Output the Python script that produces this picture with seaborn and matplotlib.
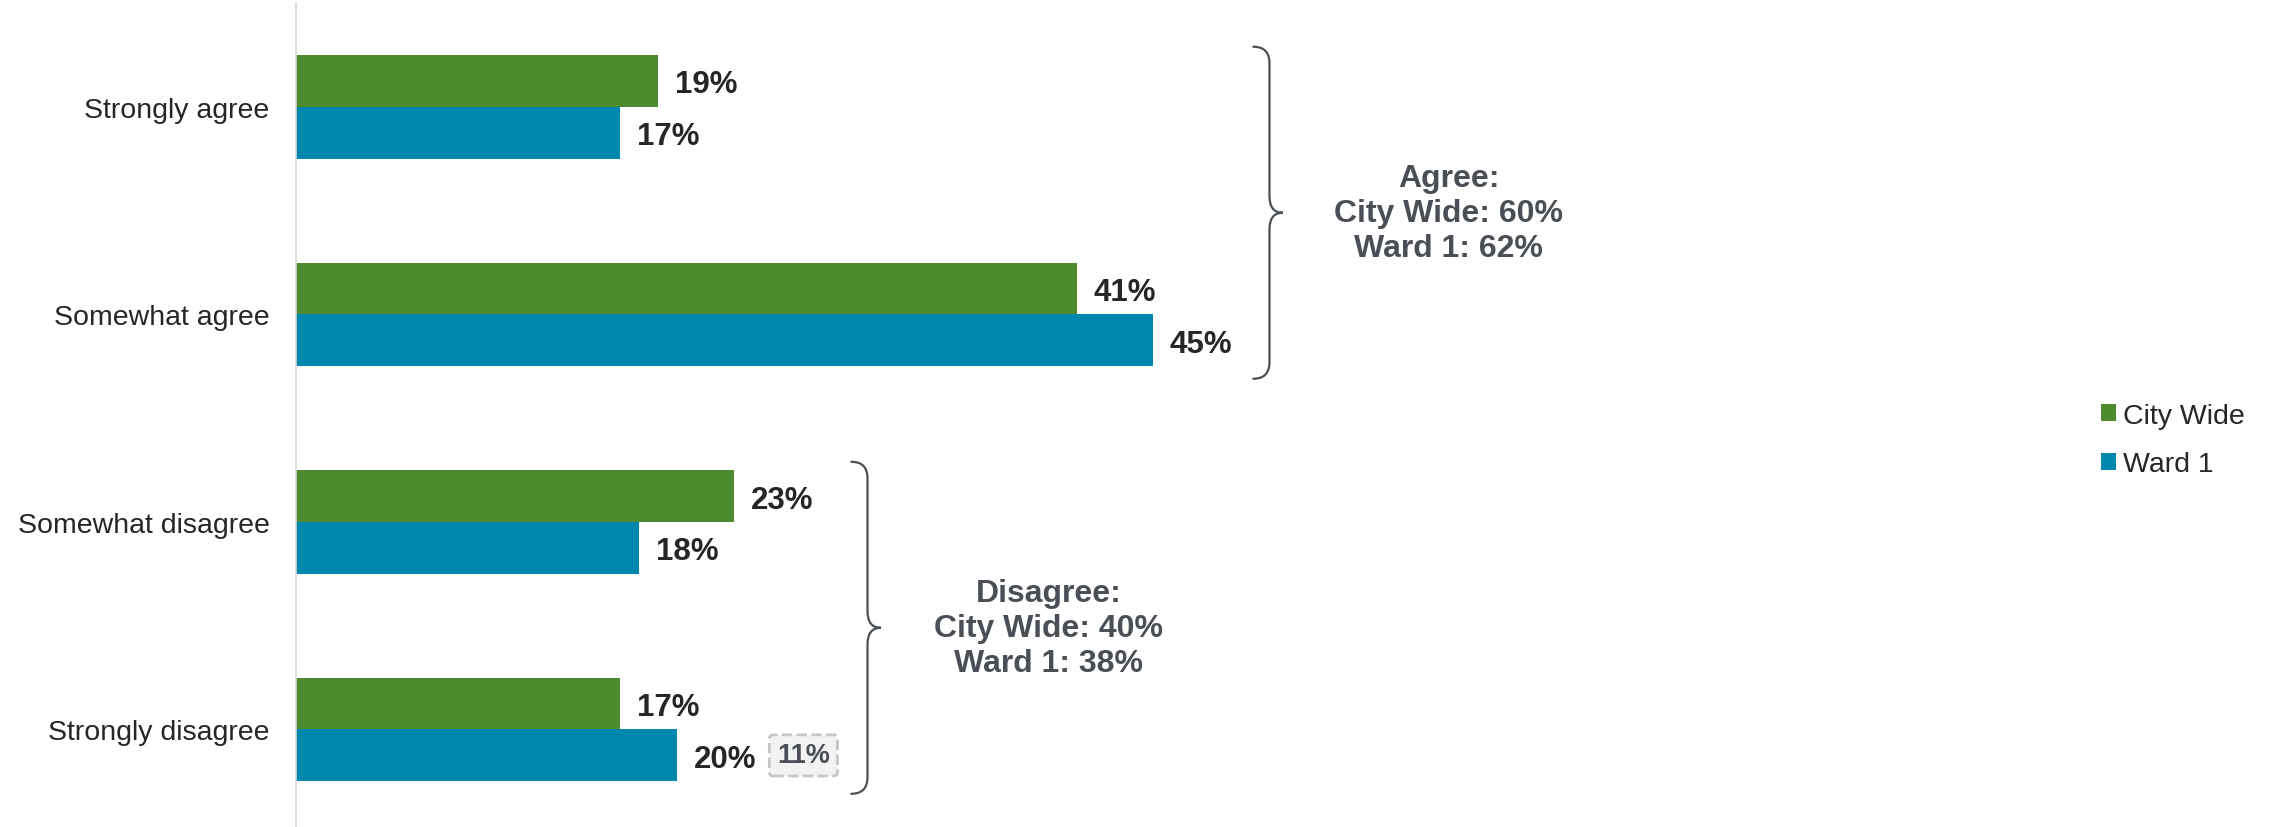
import matplotlib
matplotlib.use("Agg")
import matplotlib.pyplot as plt
from matplotlib.path import Path
from matplotlib.patches import PathPatch, Patch
import seaborn as sns
import pandas as pd

# data
categories = ["Strongly agree", "Somewhat agree", "Somewhat disagree", "Strongly disagree"]
groups = ["City Wide", "Ward 1"]
city_wide = [19, 41, 23, 17]
ward_1 = [17, 45, 18, 20]
net_names = ["Agree", "Disagree"]
net_city = [60, 40]
net_ward = [62, 38]
note_text = "11%"  # boxed note next to Ward 1 / Strongly disagree

GREEN = "#4E8B2E"
BLUE = "#0087AE"
DARK = "#262626"
GREY = "#4A4F55"


def draw_brace(ax, x, y_top, y_bot, width=0.85, tip=0.7, r=0.08):
    # curly brace opening to the left, tip pointing right
    y_mid = (y_top + y_bot) / 2
    x0 = x - width
    verts = [
        (x0, y_top), (x, y_top), (x, y_top + r),
        (x, y_mid - r),
        (x, y_mid), (x + tip, y_mid),
        (x, y_mid), (x, y_mid + r),
        (x, y_bot - r),
        (x, y_bot), (x0, y_bot),
    ]
    codes = [
        Path.MOVETO, Path.CURVE3, Path.CURVE3,
        Path.LINETO,
        Path.CURVE3, Path.CURVE3,
        Path.CURVE3, Path.CURVE3,
        Path.LINETO,
        Path.CURVE3, Path.CURVE3,
    ]
    ax.add_patch(PathPatch(Path(verts, codes), fc="none", ec=GREY, lw=1.6,
                           clip_on=False, capstyle="round"))


sns.set_theme(style="white")
plt.rcParams["font.family"] = ["Liberation Sans", "DejaVu Sans"]

df = pd.DataFrame({
    "category": categories * 2,
    "group": [groups[0]] * len(categories) + [groups[1]] * len(categories),
    "value": city_wide + ward_1,
})

fig = plt.figure(figsize=(22.75, 8.28), dpi=100)
ax = fig.add_axes([0.1301, 0.0, 0.8374, 1.0])
sns.barplot(data=df, y="category", x="value", hue="group", orient="h",
            palette=[GREEN, BLUE], saturation=1, width=0.5, linewidth=0,
            ax=ax, legend=False)

ax.set_xlim(0, 100)
ax.set_ylim(3.47, -0.52)
ax.set(xlabel="", ylabel="")
ax.set_xticks([])
ax.tick_params(axis="y", length=0, pad=19, labelsize=20.5, labelcolor=DARK)
for side in ["top", "right", "bottom"]:
    ax.spines[side].set_visible(False)
ax.spines["left"].set_color("#D9D9D9")
ax.spines["left"].set_linewidth(1.2)
ax.spines["left"].set_bounds(-0.5, 3.47)

for cont in ax.containers:
    texts = ax.bar_label(cont, labels=[f"{int(b.get_width())}%" for b in cont],
                         padding=12, fontsize=22.5, fontweight="bold", color=DARK)
    for t in texts:
        t.set_va("center_baseline")

# boxed note beside the last Ward 1 bar
bar = ax.containers[1][3]
ax.annotate(note_text, xy=(bar.get_width(), bar.get_y() + bar.get_height() / 2),
            xytext=(91, 0), textcoords="offset points", ha="center", va="center",
            fontsize=19.5, fontweight="bold", color=GREY,
            bbox=dict(boxstyle="round,pad=0.28,rounding_size=0.15", fc="#F2F2F2",
                      ec="#C3C7CB", ls="--", lw=2))

# net brackets
brace_x = [51.1, 30.0]
text_x = [60.5, 39.5]
spans = [(0, 1), (2, 3)]
for i, (a, b) in enumerate(spans):
    y_top, y_bot = a - 0.29, b + 0.31
    draw_brace(ax, brace_x[i], y_top, y_bot)
    ax.text(text_x[i], (y_top + y_bot) / 2,
            f"{net_names[i]}:\nCity Wide: {net_city[i]}%\nWard 1: {net_ward[i]}%",
            ha="center", va="center", fontsize=23, fontweight="bold",
            color=GREY, linespacing=1.22)

handles = [Patch(facecolor=GREEN, edgecolor="none"), Patch(facecolor=BLUE, edgecolor="none")]
fig.legend(handles, groups, loc="center left", bbox_to_anchor=(2101 / 2275, 1 - 441 / 828),
           frameon=False, fontsize=20.5, handlelength=0.53, handleheight=0.53,
           handletextpad=0.25, labelspacing=0.8, borderpad=0, borderaxespad=0,
           labelcolor=DARK)

fig.savefig("out.png", dpi=100)
